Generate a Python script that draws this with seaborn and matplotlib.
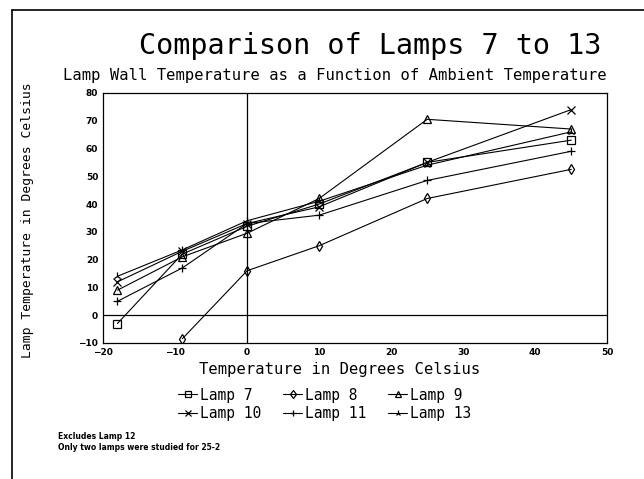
import numpy as np
import pandas as pd
import matplotlib
matplotlib.use("Agg")
import matplotlib.pyplot as plt
import seaborn as sns

# ambient temperatures (x) and lamp wall temperatures (y)
ambient = [-18, -9, 0, 10, 25, 45]
lamp_7 = [-3, 22, 32, 40, 55, 63]
lamp_8 = [np.nan, -8.5, 16, 25, 42, 52.5]
lamp_9 = [9, 21, 29.5, 42, 70.5, 67]
lamp_10 = [12, 23, 33, 39, 55, 74]
lamp_11 = [5, 17, 33, 36, 48.5, 59]
lamp_13 = [14, 23.5, 34, 41, 54, 66]

lamps = ["Lamp 7", "Lamp 8", "Lamp 9", "Lamp 10", "Lamp 11", "Lamp 13"]
series = [lamp_7, lamp_8, lamp_9, lamp_10, lamp_11, lamp_13]
x_ticks = [-20, -10, 0, 10, 20, 30, 40, 50]
y_ticks = [-10, 0, 10, 20, 30, 40, 50, 60, 70, 80]

sns.set_style("white")
plt.rcParams["font.family"] = ["DejaVu Sans"]
plt.rcParams["text.color"] = "black"
plt.rcParams["axes.labelcolor"] = "black"
plt.rcParams["xtick.color"] = "black"
plt.rcParams["ytick.color"] = "black"
mono = ["DejaVu Sans Mono"]

fig = plt.figure(figsize=(6.44, 4.79), dpi=100)
ax = fig.add_axes([0.160, 0.284, 0.783, 0.522])

markers = {"Lamp 7": "s", "Lamp 8": "d", "Lamp 9": "^",
           "Lamp 10": "x", "Lamp 11": "+", "Lamp 13": "2"}

for name, vals in zip(lamps, series):
    d = pd.DataFrame({"ambient": ambient, "wall": vals}).dropna()
    sns.lineplot(data=d, x="ambient", y="wall", color="black",
                 marker=markers[name], markersize=5.5, markerfacecolor="none",
                 markeredgecolor="black", markeredgewidth=0.9,
                 linewidth=0.8, ax=ax, label=name)

ax.axhline(0, color="black", lw=0.9, zorder=0)
ax.axvline(0, color="black", lw=0.9, zorder=0)
ax.set_xlim(-20, 50)
ax.set_ylim(-10, 80)
ax.set_xticks(x_ticks)
ax.set_yticks(y_ticks)
ax.tick_params(direction="in", length=4, labelsize=6.5, width=0.8)
for lbl in ax.get_xticklabels() + ax.get_yticklabels():
    lbl.set_fontweight("bold")
for s in ax.spines.values():
    s.set_color("black")
    s.set_linewidth(0.9)

ax.set_xlabel("Temperature in Degrees Celsius", fontsize=11.2, family=mono)
ax.xaxis.set_label_coords(0.47, -0.076)
ax.set_ylabel("")
fig.text(0.042, 0.54, "Lamp Temperature in Degrees Celsius", rotation=90,
         fontsize=9.4, family=mono, ha="center", va="center")

fig.text(0.575, 0.905, "Comparison of Lamps 7 to 13", fontsize=20.5,
         family=mono, ha="center", va="center")
fig.text(0.52, 0.843, "Lamp Wall Temperature as a Function of Ambient Temperature",
         fontsize=11.2, family=mono, ha="center", va="center")

# legend filled row by row
handles, labels = ax.get_legend_handles_labels()
order = [0, 3, 1, 4, 2, 5]
leg = ax.legend([handles[i] for i in order], [labels[i] for i in order], ncol=3,
                frameon=False, prop={"family": mono, "size": 10.5},
                loc="upper center", bbox_to_anchor=(0.44, -0.126),
                handlelength=1.3, handletextpad=0.2, columnspacing=1.5,
                labelspacing=0.25, markerscale=0.8)

fig.text(0.09, 0.084, "Excludes Lamp 12", fontsize=5.5, fontweight="bold")
fig.text(0.09, 0.061, "Only two lamps were studied for 25-2", fontsize=5.5,
         fontweight="bold")

# page border lines (left and top)
fig.add_artist(plt.Line2D([0.018, 0.018], [0.0, 0.98], color="black", lw=1.2))
fig.add_artist(plt.Line2D([0.018, 1.0], [0.98, 0.98], color="black", lw=1.2))

fig.savefig("out.png", dpi=100)
